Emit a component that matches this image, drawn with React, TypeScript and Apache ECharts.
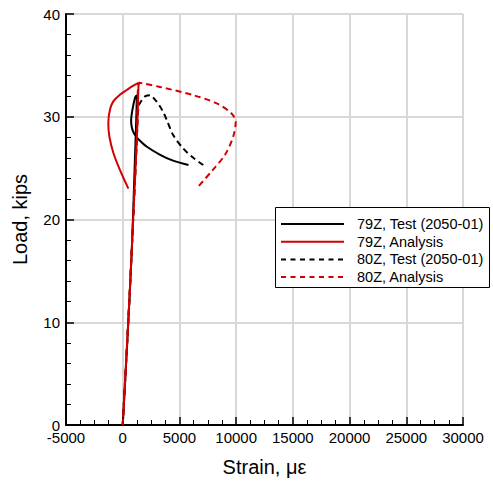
import React, { useEffect, useRef } from "react";
import * as echarts from "echarts";

const seriesNames = ["79Z, Test (2050-01)", "79Z, Analysis", "80Z, Test (2050-01)", "80Z, Analysis"];
const seriesColors = ["#000000", "#d40000", "#000000", "#d40000"];
const seriesDashed = [false, false, true, true];

// [strain (µε), load (kips)]
const test79Z: [number, number][] = [
  [0, 0], [400, 8], [800, 17], [1050, 25], [1200, 30], [1250, 32.1],
  [1100, 31.9], [950, 31.2], [800, 30.3], [740, 29.6], [780, 29.1], [900, 28.6],
  [1100, 28.2], [1400, 27.8], [2100, 27.1], [3300, 26.3], [4500, 25.7], [5800, 25.3],
];
const analysis79Z: [number, number][] = [
  [0, 0], [600, 12.5], [1000, 21.9], [1250, 28], [1400, 33.3],
  [900, 33.0], [353, 32.6], [-300, 32.1], [-829, 31.5], [-1120, 30.7], [-1270, 29.4],
  [-1180, 28.1], [-829, 26.5], [-238, 24.8], [500, 23.0],
];
const test80Z: [number, number][] = [
  [0, 0], [600, 12.5], [1000, 21.9], [1250, 28], [1400, 31], [1675, 31.6],
  [2000, 32.0], [2400, 32.1], [2900, 31.6], [3290, 31.0], [3600, 30.4], [3879, 29.7],
  [4460, 28.2], [5345, 26.9], [6225, 26.0], [7100, 25.3],
];
const analysis80Z: [number, number][] = [
  [0, 0], [600, 12.5], [1000, 21.9], [1250, 28], [1450, 33.3],
  [3290, 32.9], [6225, 32.1], [8290, 31.3], [9610, 30.3], [9960, 29.5],
  [9750, 28.1], [9020, 26.3], [7846, 24.7], [6500, 23.0],
];
const seriesData = [test79Z, analysis79Z, test80Z, analysis80Z];

const xTicks = { min: -5000, max: 30000, interval: 5000 };
const yTicks = { min: 0, max: 40, interval: 10 };

export default function App() {
  const ref = useRef<HTMLDivElement>(null);
  useEffect(() => {
    if (!ref.current) return;
    const chart = echarts.init(ref.current, undefined, { renderer: "svg", width: 493, height: 482 });
    const font = "'Liberation Sans', Arial, Helvetica, sans-serif";
    const axisCommon = (k: typeof xTicks) => ({
      type: "value" as const,
      min: k.min,
      max: k.max,
      interval: k.interval,
    });
    const legendGraphics: any[] = [
      {
        type: "rect",
        shape: { x: 275.5, y: 207.5, width: 214, height: 80 },
        style: { fill: "#ffffff", stroke: "#000000", lineWidth: 1 },
        z: 100,
      },
    ];
    seriesNames.forEach((n, i) => {
      const y = 224 + i * 17.7;
      legendGraphics.push({
        type: "line",
        shape: { x1: 281, y1: y, x2: 344, y2: y },
        style: {
          stroke: seriesColors[i],
          lineWidth: 2,
          lineDash: seriesDashed[i] ? [5, 4.5] : null,
        },
        z: 101,
      });
      legendGraphics.push({
        type: "text",
        x: 357,
        y,
        style: {
          text: n,
          fill: "#000",
          font: `14.5px ${font}`,
          textVerticalAlign: "middle",
          verticalAlign: "middle",
        },
        z: 101,
      });
    });
    chart.setOption({
      animation: false,
      backgroundColor: "#ffffff",
      textStyle: { fontFamily: font },
      grid: { left: 66, right: 30, top: 14, bottom: 57, containLabel: false },
      graphic: legendGraphics,
      xAxis: [
        {
          ...axisCommon(xTicks),
          z: 0,
          axisLine: { show: false },
          axisTick: { show: false },
          axisLabel: { show: false },
          splitLine: { show: true, lineStyle: { color: "#d8d8d8", width: 2 } },
        },
        {
          ...axisCommon(xTicks),
          z: 5,
          position: "bottom",
          name: "Strain, \u03bc\u03b5",
          nameLocation: "middle",
          nameGap: 32,
          nameTextStyle: { fontSize: 20, color: "#000", fontFamily: font },
          axisLine: { show: true, onZero: false, lineStyle: { color: "#000", width: 2 } },
          axisTick: { show: true, inside: true, length: 8, lineStyle: { color: "#000", width: 1.5 } },
          minorTick: { show: true, splitNumber: 4, length: 5, lineStyle: { color: "#000", width: 1 } },
          axisLabel: { fontSize: 15, color: "#000", margin: 5, fontFamily: font, formatter: (v: number) => String(v) },
          splitLine: { show: false },
        },
      ],
      yAxis: [
        {
          ...axisCommon(yTicks),
          z: 0,
          axisLine: { show: false },
          axisTick: { show: false },
          axisLabel: { show: false },
          splitLine: { show: true, lineStyle: { color: "#d8d8d8", width: 2 } },
        },
        {
          ...axisCommon(yTicks),
          z: 5,
          position: "left",
          name: "Load, kips",
          nameLocation: "middle",
          nameGap: 36,
          nameRotate: 90,
          nameTextStyle: { fontSize: 20, color: "#000", fontFamily: font },
          axisLine: { show: true, onZero: false, lineStyle: { color: "#000", width: 2 } },
          axisTick: { show: true, inside: true, length: 8, lineStyle: { color: "#000", width: 1.5 } },
          minorTick: { show: true, splitNumber: 5, length: 5, lineStyle: { color: "#000", width: 1 } },
          axisLabel: { fontSize: 15, color: "#000", margin: 6, fontFamily: font },
          splitLine: { show: false },
        },
      ],
      series: seriesNames.map((name, i) => ({
        name,
        type: "line",
        xAxisIndex: 1,
        yAxisIndex: 1,
        data: seriesData[i],
        showSymbol: false,
        symbol: "none",
        smooth: 0.3,
        z: [3, 4, 2, 5][i],
        lineStyle: { color: seriesColors[i], width: 2, type: seriesDashed[i] ? [6, 4] : "solid" },
        itemStyle: { color: seriesColors[i] },
      })),
    });
    return () => chart.dispose();
  }, []);
  return <div ref={ref} style={{ width: 493, height: 482, position: "absolute", left: 0, top: 0 }} />;
}
